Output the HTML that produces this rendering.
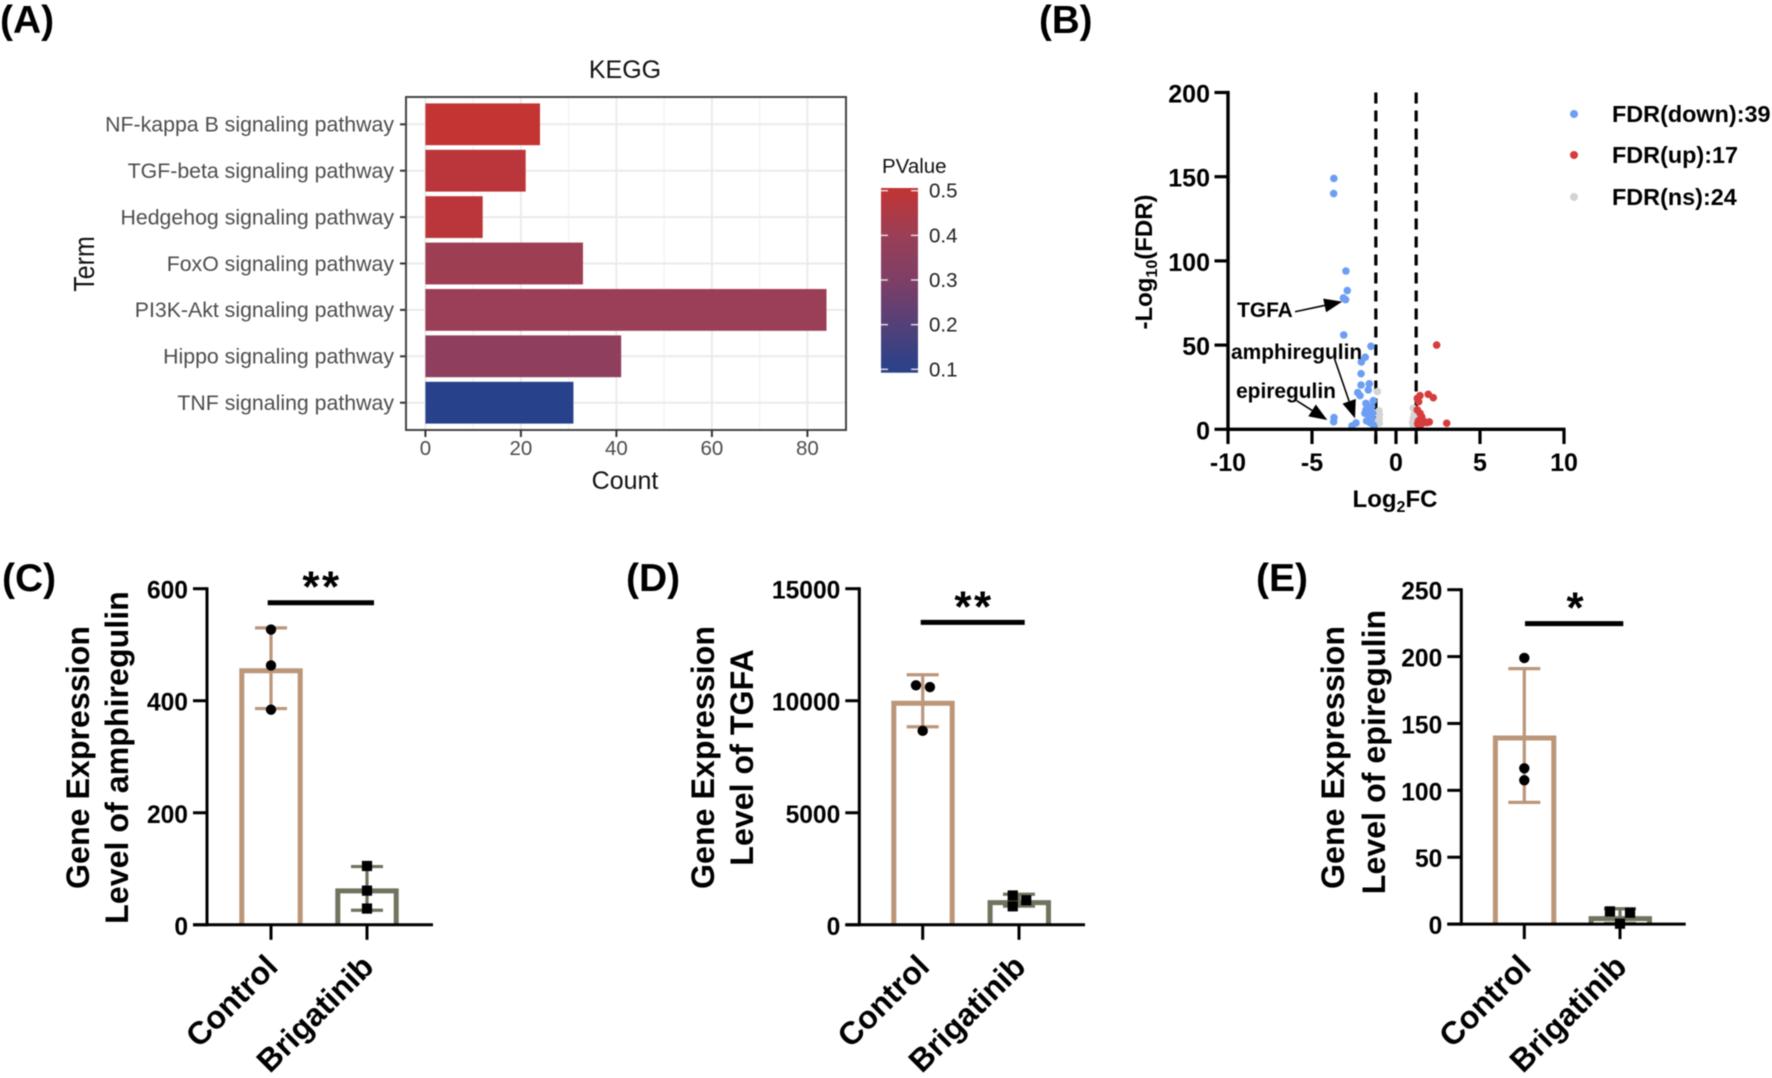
<!DOCTYPE html>
<html lang="en">
<head>
<meta charset="utf-8">
<title>KEGG, volcano and gene expression figure</title>
<style>
html,body{margin:0;padding:0;background:#fff}
svg{display:block;filter:blur(0.45px)}
text{font-family:"Liberation Sans",sans-serif}
.b{font-weight:bold;fill:#000}
</style>
</head>
<body>
<svg id="figure" xmlns="http://www.w3.org/2000/svg" width="1772" height="1078" viewBox="0 0 1772 1078">
<defs>
<linearGradient id="pvalue-gradient" x1="0" y1="0" x2="0" y2="1">
<stop offset="0" stop-color="#C33433"/>
<stop offset="0.26" stop-color="#9A3F57"/>
<stop offset="0.5" stop-color="#7E3F66"/>
<stop offset="1" stop-color="#27428B"/>
</linearGradient>
</defs>
<rect width="1772" height="1078" fill="#fff"/>

<text class="b" x="0" y="33" font-size="39">(A)</text>
<text class="b" x="1039" y="33" font-size="38.5">(B)</text>
<text class="b" x="2" y="591" font-size="39">(C)</text>
<text class="b" x="626" y="591" font-size="39">(D)</text>
<text class="b" x="1256" y="591" font-size="39">(E)</text>

<g id="panel-a">
<text x="625" y="78" font-size="25" text-anchor="middle" fill="#111">KEGG</text>
<text x="625" y="489" font-size="25" text-anchor="middle" fill="#111">Count</text>
<text transform="translate(94 264) rotate(-90) scale(1 1.15)" font-size="25" text-anchor="middle" fill="#111">Term</text>
<text x="882" y="173" font-size="20.5" fill="#111">PValue</text>
</g>

<g id="panel-b">
<text transform="translate(1152 262) rotate(-90)" class="b" font-size="24" text-anchor="middle">-Log<tspan font-size="16" dy="5">10</tspan><tspan dy="-5">(FDR)</tspan></text>
<text x="1395" y="507" class="b" font-size="24" text-anchor="middle">Log<tspan font-size="16" dy="5">2</tspan><tspan dy="-5">FC</tspan></text>
<text x="1612" y="122" class="b" font-size="23.4">FDR(down):39</text>
<text x="1612" y="163" class="b" font-size="23.4">FDR(up):17</text>
<text x="1612" y="205" class="b" font-size="23.4">FDR(ns):24</text>
</g>

<g id="panel-c">
<text transform="translate(89 757.5) rotate(-90)" class="b" font-size="32.2" text-anchor="middle">Gene Expression</text>
<text transform="translate(128 757.5) rotate(-90)" class="b" font-size="32.2" text-anchor="middle">Level of amphiregulin</text>
</g>
<g id="panel-d">
<text transform="translate(714 757.5) rotate(-90)" class="b" font-size="32.2" text-anchor="middle">Gene Expression</text>
<text transform="translate(753 757.5) rotate(-90)" class="b" font-size="32.2" text-anchor="middle">Level of TGFA</text>
</g>
<g id="panel-e">
<text transform="translate(1344 757.5) rotate(-90)" class="b" font-size="32.2" text-anchor="middle">Gene Expression</text>
<text transform="translate(1385 752) rotate(-90)" class="b" font-size="32.2" text-anchor="middle">Level of epiregulin</text>
</g>
</svg>

<script>
// Panel A data
const keggTerms = ['NF-kappa B signaling pathway','TGF-beta signaling pathway','Hedgehog signaling pathway','FoxO signaling pathway','PI3K-Akt signaling pathway','Hippo signaling pathway','TNF signaling pathway'];
const keggCounts = [24,21,12,33,84,41,31];
const keggPValues = [0.5,0.48,0.48,0.41,0.4,0.36,0.1];
const keggCountTicks = [0,20,40,60,80];
const keggMinorTicks = [10,30,50,70];
const pValueTicks = [0.5,0.4,0.3,0.2,0.1];

// Panel B data
const downX = [-3.70,-3.71,-2.98,-2.90,-3.13,-3.00,-3.11,-1.49,-1.83,-2.06,-2.08,-2.08,-1.59,-1.65,-2.28,-2.14,-1.79,-1.35,-1.45,-1.79,-1.55,-1.85,-1.39,-1.65,-1.45,-1.75,-1.55,-1.35,-1.31,-3.69,-3.71,-2.38,-2.62];
const downY = [149,140,94,82.4,78,77,56,49.3,42.8,40,33,26.3,27,23.4,21.8,20,15.4,17,13.5,11.5,10.5,9.5,9.5,9,6.5,5,4,2.6,1.6,7,4.5,3.8,2];
const upX = [2.42,1.92,2.22,1.43,1.27,1.35,1.27,1.43,1.53,1.59,1.33,1.29,1.63,1.98,1.83,1.43,3.02];
const upY = [50,20.8,18.8,20,18.4,16.4,11.5,9.5,7.5,5.5,5,3.2,4,4.4,4,1.6,3.6];
const nsX = [-1.11,-1.01,-0.99,-1.01,-0.99,-1.15,1.03,1.09,1.03,0.99,1.03,1.13];
const nsY = [22.4,10.9,8.5,6.1,3.6,4.5,12.5,8.5,6.5,4,1.6,10];
const volcanoXTicks = [-10,-5,0,5,10];
const volcanoYTicks = [0,50,100,150,200];
const foldChangeCutoffs = [-1.2,1.2];
const annotationLabels = ['TGFA','amphiregulin','epiregulin'];
const annotationTextX = [-9.46,-9.82,-9.52];
const annotationTextY = [70.8,45.9,22.7];
const annotationFromX = [-6.01,-3.67,-5.91];
const annotationFromY = [69.8,42.2,17];
const annotationToX = [-3.2,-2.44,-4.09];
const annotationToY = [75.8,6.5,5.5];

// Panels C, D, E data
const geneCategories = ['Control','Brigatinib'];
const amphiregulinTicks = [0,200,400,600];
const amphiregulinMeans = [458,65];
const amphiregulinSD = [72,39];
const amphiregulinPoints = [[527,463,384],[105,61,29]];
const amphiregulinJitter = [[0,0,0],[0,0,0]];
const tgfaTicks = [0,5000,10000,15000];
const tgfaMeans = [10000,1100];
const tgfaSD = [1160,265];
const tgfaPoints = [[10690,10610,8657],[1308,1096,825]];
const tgfaJitter = [[-0.07,0.075,0],[-0.065,0.075,-0.065]];
const epiregulinTicks = [0,50,100,150,200,250];
const epiregulinMeans = [141,6];
const epiregulinSD = [50,5.5];
const epiregulinPoints = [[199,116.5,107.5],[9.5,8.5,0.3]];
const epiregulinJitter = [[0,0,0],[-0.105,0.105,0]];

const NS = 'http://www.w3.org/2000/svg';
function mk(tag, attrs, parent, txt) {
  const n = document.createElementNS(NS, tag);
  for (const k in attrs) n.setAttribute(k, attrs[k]);
  if (txt !== undefined) n.textContent = txt;
  parent.appendChild(n);
  return n;
}
function slug(s) { return String(s).toLowerCase().replace(/[^a-z0-9]+/g, '-'); }
let el;

/* ---------- Panel A ---------- */
(function () {
  const g = document.getElementById('panel-a');
  const ax = v => 425.4 + 4.775 * v;
  const bandY = i => 124.3 + 46.4 * i;
  const frame = {l: 406, r: 846, t: 97, b: 430};
  const colorStops = [[0.1, 39, 66, 139], [0.3, 126, 63, 102], [0.4, 154, 63, 87], [0.5, 195, 52, 51]];
  const mix = p => {
    let k = 0;
    while (k < colorStops.length - 2 && p > colorStops[k + 1][0]) k++;
    const a = colorStops[k], b = colorStops[k + 1], f = (p - a[0]) / (b[0] - a[0]);
    const c = j => Math.round(a[j] + (b[j] - a[j]) * f);
    return 'rgb(' + c(1) + ',' + c(2) + ',' + c(3) + ')';
  };
  keggMinorTicks.forEach(t => {
    el = mk('line', {x1: ax(t), x2: ax(t), y1: frame.t, y2: frame.b, stroke: '#efefef', 'stroke-width': 1}, g);
    
    
  });
  keggCountTicks.forEach(t => {
    el = mk('line', {x1: ax(t), x2: ax(t), y1: frame.t, y2: frame.b, stroke: '#ebebeb', 'stroke-width': 2}, g);
    
    
  });
  keggTerms.forEach((term, i) => {
    el = mk('line', {x1: frame.l, x2: frame.r, y1: bandY(i), y2: bandY(i), stroke: '#ebebeb', 'stroke-width': 2}, g);
    
    
  });
  keggTerms.forEach((term, i) => {
    el = mk('rect', {x: ax(0), y: bandY(i) - 20.9, width: ax(keggCounts[i]) - ax(0), height: 41.8, fill: mix(keggPValues[i])}, g);
    
    
    el = mk('line', {x1: 400, x2: frame.l, y1: bandY(i), y2: bandY(i), stroke: '#333', 'stroke-width': 2}, g);
    
    
    el = mk('text', {x: 394, y: bandY(i) + 7.3, 'font-size': 21.3, 'text-anchor': 'end', fill: '#4d4d4d'}, g, term);
    
    
  });
  el = mk('rect', {x: frame.l, y: frame.t, width: frame.r - frame.l, height: frame.b - frame.t, fill: 'none', stroke: '#444', 'stroke-width': 2}, g);
  
  
  keggCountTicks.forEach(t => {
    el = mk('line', {x1: ax(t), x2: ax(t), y1: frame.b, y2: 437, stroke: '#333', 'stroke-width': 2}, g);
    
    
    el = mk('text', {x: ax(t), y: 455, 'font-size': 20.5, 'text-anchor': 'middle', fill: '#4d4d4d'}, g, t);
    
    
  });
  const cy = p => 369.3 - (p - 0.1) * 446.5;
  el = mk('rect', {x: 881, y: 188, width: 37, height: 184.7, fill: 'url(#pvalue-gradient)'}, g);
  
  
  pValueTicks.forEach(p => {
    el = mk('line', {x1: 881, x2: 888, y1: cy(p), y2: cy(p), stroke: '#e8d8d8', 'stroke-width': 1.5}, g);
    
    
    el = mk('line', {x1: 911, x2: 918, y1: cy(p), y2: cy(p), stroke: '#e8d8d8', 'stroke-width': 1.5}, g);
    
    
    el = mk('text', {x: 929, y: cy(p) + 7, 'font-size': 20.5, fill: '#222'}, g, p.toFixed(1));
    
    
  });
})();

/* ---------- Panel B ---------- */
(function () {
  const g = document.getElementById('panel-b');
  const vx = v => 1396 + 16.8 * v;
  const vy = v => 429.3 - 1.684 * v;
  foldChangeCutoffs.forEach(c => {
    el = mk('line', {x1: vx(c), x2: vx(c), y1: vy(200), y2: 443, stroke: '#000', 'stroke-width': 3.2, 'stroke-dasharray': '11 7'}, g);
    
    
    el = mk('line', {x1: vx(c), x2: vx(c), y1: vy(0), y2: 444, stroke: '#000', 'stroke-width': 3}, g);
    
    
  });
  const drawSeries = (xs, ys, color, name) => {
    xs.forEach((x, i) => {
      el = mk('circle', {cx: vx(x), cy: vy(ys[i]), r: 3.8, fill: color}, g);
      
      
    });
  };
  drawSeries(nsX, nsY, '#D4D4D4', 'ns');
  drawSeries(upX, upY, '#D63C3C', 'up');
  drawSeries(downX, downY, '#6C9EF3', 'down');
  el = mk('line', {x1: vx(-10), x2: vx(-10), y1: vy(200) - 1.6, y2: vy(0) + 1.6, stroke: '#000', 'stroke-width': 3.4}, g);
  
  
  el = mk('line', {x1: vx(-10), x2: vx(10) + 1.5, y1: vy(0), y2: vy(0), stroke: '#000', 'stroke-width': 3.4}, g);
  
  
  volcanoYTicks.forEach(t => {
    el = mk('line', {x1: 1214.5, x2: vx(-10), y1: vy(t), y2: vy(t), stroke: '#000', 'stroke-width': 3.2}, g);
    
    
    el = mk('text', {x: 1210, y: vy(t) + 10, 'font-size': 25, 'font-weight': 'bold', 'text-anchor': 'end'}, g, t);
    
    
  });
  volcanoXTicks.forEach(t => {
    el = mk('line', {x1: vx(t), x2: vx(t), y1: vy(0), y2: 444, stroke: '#000', 'stroke-width': 3.2}, g);
    
    
    el = mk('text', {x: vx(t), y: 471, 'font-size': 25, 'font-weight': 'bold', 'text-anchor': 'middle'}, g, t);
    
    
  });
  annotationLabels.forEach((label, i) => {
    const x1 = vx(annotationFromX[i]), y1 = vy(annotationFromY[i]);
    const x2 = vx(annotationToX[i]), y2 = vy(annotationToY[i]);
    const d = Math.hypot(x2 - x1, y2 - y1), ux = (x2 - x1) / d, uy = (y2 - y1) / d;
    const bx = x2 - ux * 18, by = y2 - uy * 18;
    el = mk('line', {x1: x1, y1: y1, x2: bx, y2: by, stroke: '#000', 'stroke-width': 1.6}, g);
    
    
    const pts = [x2, y2, bx - uy * 7, by + ux * 7, bx + uy * 7, by - ux * 7].join(' ');
    el = mk('polygon', {points: pts, fill: '#000'}, g);
    
    
    el = mk('text', {x: vx(annotationTextX[i]), y: vy(annotationTextY[i]) + 7, 'font-size': 20.9, 'font-weight': 'bold'}, g, label);
    
    
  });
  el = mk('circle', {cx: 1574, cy: 114, r: 4, fill: '#6C9EF3'}, g);
  
  
  el = mk('circle', {cx: 1574, cy: 155, r: 4, fill: '#D63C3C'}, g);
  
  
  el = mk('circle', {cx: 1574, cy: 197, r: 4, fill: '#D4D4D4'}, g);
  
  
})();

/* ---------- Panels C, D, E ---------- */
function drawGenePanel(id, key, ticks, means, sd, points, jitter, layout) {
  const g = document.getElementById(id);
  const top = ticks[ticks.length - 1];
  const sy = v => layout.y0 - (layout.y0 - layout.yTop) * v / top;
  const sx = i => layout.x0 + layout.step * i;
  const colors = ['#BC9679', '#6F745F'];

  el = mk('line', {x1: layout.axisX, x2: layout.axisX, y1: layout.yTop - 1.5, y2: layout.y0 + 1.5, stroke: '#000', 'stroke-width': 3}, g);
  
  

  geneCategories.forEach((cat, i) => {
    const hw = 29.2, sw = 5, c = sx(i) + layout.barShift;
    const tip = sy(means[i]) + sw / 2;
    el = mk('path', {d: 'M' + (c - hw) + ' ' + layout.y0 + 'V' + tip + 'H' + (c + hw) + 'V' + layout.y0, fill: 'none', stroke: colors[i], 'stroke-width': sw}, g);
    
    
    const hi = sy(means[i] + sd[i]), lo = sy(Math.max(means[i] - sd[i], 0));
    el = mk('line', {x1: sx(i), x2: sx(i), y1: hi, y2: lo, stroke: colors[i], 'stroke-width': 3.2}, g);
    
    
    el = mk('line', {x1: sx(i) - 16, x2: sx(i) + 16, y1: hi, y2: hi, stroke: colors[i], 'stroke-width': 3.2}, g);
    
    
    el = mk('line', {x1: sx(i) - 16, x2: sx(i) + 16, y1: lo, y2: lo, stroke: colors[i], 'stroke-width': 3.2}, g);
    
    
  });

  el = mk('line', {x1: layout.axisX - 14, x2: layout.xEnd, y1: layout.y0, y2: layout.y0, stroke: '#000', 'stroke-width': 3}, g);
  
  

  ticks.forEach(t => {
    el = mk('line', {x1: layout.axisX - 14, x2: layout.axisX, y1: sy(t), y2: sy(t), stroke: '#000', 'stroke-width': 3}, g);
    
    
    el = mk('text', {x: layout.axisX - 19, y: sy(t) + 10, 'font-size': 24.6, 'font-weight': 'bold', 'text-anchor': 'end'}, g, t);
    
    
  });

  geneCategories.forEach((cat, i) => {
    el = mk('line', {x1: sx(i), x2: sx(i), y1: layout.y0, y2: layout.y0 + 15, stroke: '#000', 'stroke-width': 3}, g);
    
    
    const lx = sx(i) + 8.5, ly = 968.5;
    el = mk('text', {x: lx, y: ly, 'font-size': 32, 'font-weight': 'bold', 'text-anchor': 'end', transform: 'rotate(-45 ' + lx + ' ' + ly + ')'}, g, cat);
    
    
    points[i].forEach((v, j) => {
      const px = sx(i) + jitter[i][j] * layout.step, py = sy(v);
      if (i === 0) {
        el = mk('circle', {cx: px, cy: py, r: 5.2, fill: '#000'}, g);
      } else {
        el = mk('rect', {x: px - 5.1, y: py - 5.1, width: 10.2, height: 10.2, fill: '#000'}, g);
      }
      
      
    });
  });

  el = mk('line', {x1: layout.sigFrom, x2: layout.sigTo, y1: sy(layout.sigValue), y2: sy(layout.sigValue), stroke: '#000', 'stroke-width': 5}, g);
  
  
  el = mk('text', {x: layout.starX, y: sy(layout.sigValue) + layout.starDy, 'font-size': 44, 'font-weight': 'bold', 'text-anchor': 'middle', 'letter-spacing': layout.starGap}, g, layout.stars);
  
  
}

drawGenePanel('panel-c', 'amphiregulin', amphiregulinTicks, amphiregulinMeans, amphiregulinSD, amphiregulinPoints, amphiregulinJitter,
  {axisX: 207, y0: 924.8, yTop: 588.7, xEnd: 433, x0: 271, step: 96, barShift: 0, sigFrom: 267.7, sigTo: 374, sigValue: 575, starX: 322, starDy: -1, starGap: 2.5, stars: '**'});
drawGenePanel('panel-d', 'tgfa', tgfaTicks, tgfaMeans, tgfaSD, tgfaPoints, tgfaJitter,
  {axisX: 859.3, y0: 924.8, yTop: 588.7, xEnd: 1085, x0: 922.7, step: 96.3, barShift: 0.3, sigFrom: 920.7, sigTo: 1024.7, sigValue: 13495, starX: 974, starDy: -1, starGap: 2.5, stars: '**'});
drawGenePanel('panel-e', 'epiregulin', epiregulinTicks, epiregulinMeans, epiregulinSD, epiregulinPoints, epiregulinJitter,
  {axisX: 1461.3, y0: 924.1, yTop: 589.7, xEnd: 1685.7, x0: 1524.3, step: 95.7, barShift: 0.3, sigFrom: 1525, sigTo: 1623.3, sigValue: 224.6, starX: 1575, starDy: -1, starGap: 0, stars: '*'});
</script>
</body>
</html>
